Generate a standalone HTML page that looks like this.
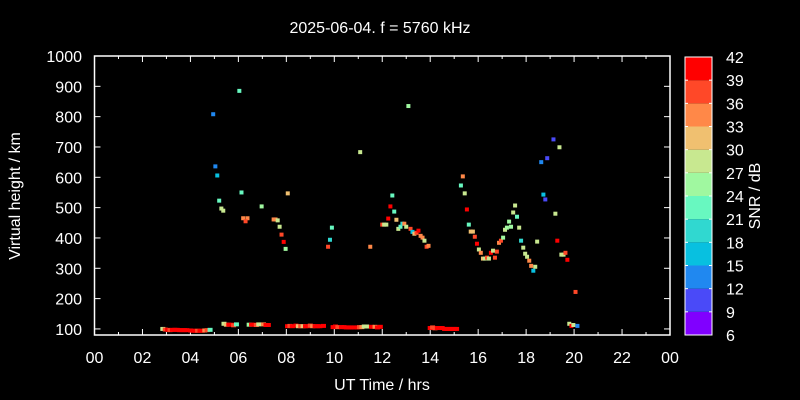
<!DOCTYPE html>
<html><head><meta charset="utf-8"><style>
html,body{margin:0;padding:0;background:#000;}
svg{display:block;font-family:"Liberation Sans",sans-serif;}
</style></head><body>
<svg id="chart" width="800" height="400" viewBox="0 0 800 400">
<rect x="0" y="0" width="800" height="400" fill="#000"/>
<text x="380" y="33" fill="#fff" font-size="16" text-anchor="middle">2025-06-04. f = 5760 kHz</text>
<text x="382" y="390" fill="#fff" font-size="16" text-anchor="middle">UT Time / hrs</text>
<text transform="translate(20,196) rotate(-90)" fill="#fff" font-size="16" text-anchor="middle">Virtual height / km</text>
<text transform="translate(760,196) rotate(-90)" fill="#fff" font-size="16" text-anchor="middle">SNR / dB</text>
<g id="axes"></g>
<g id="marks"></g>
<g id="cbar"></g>
</svg>
<script>
const xTicks = ["00","02","04","06","08","10","12","14","16","18","20","22","00"];
const yTicks = [100,200,300,400,500,600,700,800,900,1000];
const cbTicks = [6,9,12,15,18,21,24,27,30,33,36,39,42];
const bandColors = ["#8000ff","#4a4af8","#2088f0","#08c0e0","#30d8d0","#68f8c0","#a0f8a0","#c8e890","#f0c070","#ff8848","#ff4828","#ff0000"];
// F-layer echoes
const fHours = [6.04,4.95,5.04,5.12,6.13,5.2,5.29,5.37,8.06,6.97,6.2,6.38,6.3,7.47,7.55,7.64,7.72,7.8,7.89,7.97,9.9,9.82,9.74,
13.09,11.08,12.42,12.34,12.5,12.25,12.0,12.08,12.17,12.59,12.67,12.76,12.84,12.92,13.0,13.18,13.26,13.34,13.43,13.51,13.6,13.68,13.76,13.85,13.93,11.5,
15.36,15.28,15.44,15.53,15.61,15.69,15.78,15.86,15.95,16.03,16.11,16.2,16.28,16.37,16.45,16.53,16.62,16.7,16.78,16.87,16.95,17.04,17.12,17.2,17.29,17.37,17.46,17.54,17.62,17.71,17.79,17.88,17.96,18.04,18.13,18.21,18.3,18.38,18.46,18.63,18.72,18.8,18.88,19.14,19.22,19.39,19.3,19.47,19.56,19.64,19.72,20.06,19.8,19.89,19.97,20.14];
const fHeights = [885,808,636,606,550,523,497,490,547,504,465,465,455,461,461,458,437,411,387,364,434,394,371,
835,683,540,504,487,464,444,444,444,460,430,437,447,447,437,430,420,414,417,424,407,401,391,371,374,371,
603,573,547,494,444,421,421,404,381,362,351,332,332,335,332,351,358,335,355,384,391,401,427,434,454,437,484,507,470,434,391,368,348,338,325,308,292,305,388,650,543,527,663,725,480,699,391,345,345,351,328,222,117,110,113,110];
const fSnr = [22,12,13,15,22,23,27,27,32,24,33,33,36,35,33,27,28,36,39,25,21,20,36,
26,27,22,42,23,42,38,27,27,32,27,21,18,33,27,36,15,30,36,42,33,33,27,38,33,33,
33,21,27,42,22,30,32,36,42,27,33,30,27,36,27,42,27,38,36,33,36,24,27,24,24,24,27,28,21,27,18,27,28,28,33,33,15,27,28,12,16,9,9,9,27,28,40,28,28,36,42,38,27,42,28,12];
// E-layer trace
const eHours = [2.85,2.95,3.05,3.15,3.25,3.35,3.45,3.55,3.65,3.75,3.85,4.0,4.1,4.2,4.3,4.4,4.5,4.6,4.7,4.82,
5.4,5.5,5.6,5.7,5.8,5.92,6.45,6.55,6.65,6.75,6.85,7.05,7.15,7.25,
8.05,8.15,8.25,8.4,8.5,8.6,8.7,8.8,8.9,9.0,9.1,9.2,9.3,9.4,9.55,
9.95,10.05,10.15,10.3,10.4,10.5,10.6,10.7,10.82,10.95,11.05,11.15,11.25,11.35,11.55,11.7,11.8,11.92,
14.0,14.1,14.2,14.3,14.4,14.5,14.6,14.7,14.8,14.9,15.0,15.1];
const eHeights = [100,98,97,96,97,97,97,96,96,96,96,95,94,94,94,94,94,95,96,97,
117,114,114,114,112,115,114,114,114,113,115,115,113,113,
109,110,109,111,109,109,109,109,109,111,109,109,109,109,110,
106,108,106,106,106,105,105,105,105,105,106,106,108,108,107,107,105,107,
103,105,102,103,103,103,100,100,100,100,100,100];
const eSnr = [27,38,42,38,42,42,42,42,42,42,42,42,42,42,36,42,42,33,36,21,
27,30,42,42,38,21,24,42,42,38,27,33,42,42,
42,38,42,42,30,38,30,42,42,38,33,42,42,42,42,
42,42,38,42,42,42,42,42,42,42,38,33,27,27,42,33,42,42,
42,38,38,42,42,42,42,42,42,42,42,42];

const NS = "http://www.w3.org/2000/svg";
const X0 = 94.5, X1 = 670, Y0 = 335, Y1 = 56;
const xScale = h => X0 + (h / 24) * (X1 - X0);
const yScale = km => Y0 - (km - 80) / (1000 - 80) * (Y0 - Y1);
const CB0 = 335, CB1 = 57, CBX = 685, CBW = 27;
const cScale = s => CB0 - (s - 6) / 36 * (CB0 - CB1);
const colorOf = s => bandColors[Math.max(0, Math.min(11, Math.floor((s - 6) / 3)))];

function mk(tag, attrs, parent) {
  const el = document.createElementNS(NS, tag);
  for (const k in attrs) el.setAttribute(k, attrs[k]);
  parent.appendChild(el);
  return el;
}
const axes = document.getElementById('axes');
const marks = document.getElementById('marks');
const cbar = document.getElementById('cbar');

const frame = mk('rect', {x: X0, y: Y1, width: X1 - X0, height: Y0 - Y1, fill: 'none', stroke: '#fff', 'stroke-width': 1.5}, axes);



for (let h = 0; h <= 24; h++) {
  const x = xScale(h);
  const len = h % 2 === 0 ? 6 : 3;
  const t1 = mk('line', {x1: x, y1: Y0, x2: x, y2: Y0 - len, stroke: '#fff', 'stroke-width': 1}, axes);
  
  
  const t2 = mk('line', {x1: x, y1: Y1, x2: x, y2: Y1 + len, stroke: '#fff', 'stroke-width': 1}, axes);
  
  
}
xTicks.forEach((lab, i) => {
  const t = mk('text', {x: xScale(i * 2), y: 363, fill: '#fff', 'font-size': 16, 'text-anchor': 'middle'}, axes);
  t.textContent = lab;
  
  
});
yTicks.forEach(v => {
  const y = yScale(v);
  const a = mk('line', {x1: X0, y1: y, x2: X0 + 6, y2: y, stroke: '#fff'}, axes);
  
  
  const b = mk('line', {x1: X1, y1: y, x2: X1 - 6, y2: y, stroke: '#fff'}, axes);
  
  
  const t = mk('text', {x: 82, y: y + 6, fill: '#fff', 'font-size': 16, 'text-anchor': 'end'}, axes);
  t.textContent = v;
  
  
});

eHours.forEach((h, i) => {
  const r = mk('rect', {x: xScale(h) - 2.5, y: yScale(eHeights[i]) - 2, width: 5, height: 4, fill: colorOf(eSnr[i])}, marks);
  
  
});
fHours.forEach((h, i) => {
  const r = mk('rect', {x: xScale(h) - 2, y: yScale(fHeights[i]) - 2, width: 4, height: 4, fill: colorOf(fSnr[i])}, marks);
  
  
});

bandColors.forEach((c, i) => {
  const yTop = cScale(6 + (i + 1) * 3), yBot = cScale(6 + i * 3);
  const r = mk('rect', {x: CBX, y: yTop, width: CBW, height: yBot - yTop, fill: c}, cbar);
  
  
});
const cbf = mk('rect', {x: CBX, y: CB1, width: CBW, height: CB0 - CB1, fill: 'none', stroke: '#fff', 'stroke-width': 1}, cbar);


cbTicks.forEach(v => {
  const y = cScale(v);
  const a = mk('line', {x1: CBX, y1: y, x2: CBX + 3, y2: y, stroke: '#fff'}, cbar);
  
  
  const b = mk('line', {x1: CBX + CBW, y1: y, x2: CBX + CBW - 3, y2: y, stroke: '#fff'}, cbar);
  
  
  const t = mk('text', {x: 726, y: y + 6, fill: '#fff', 'font-size': 16}, cbar);
  t.textContent = v;
  
  
});
</script>
</body></html>
